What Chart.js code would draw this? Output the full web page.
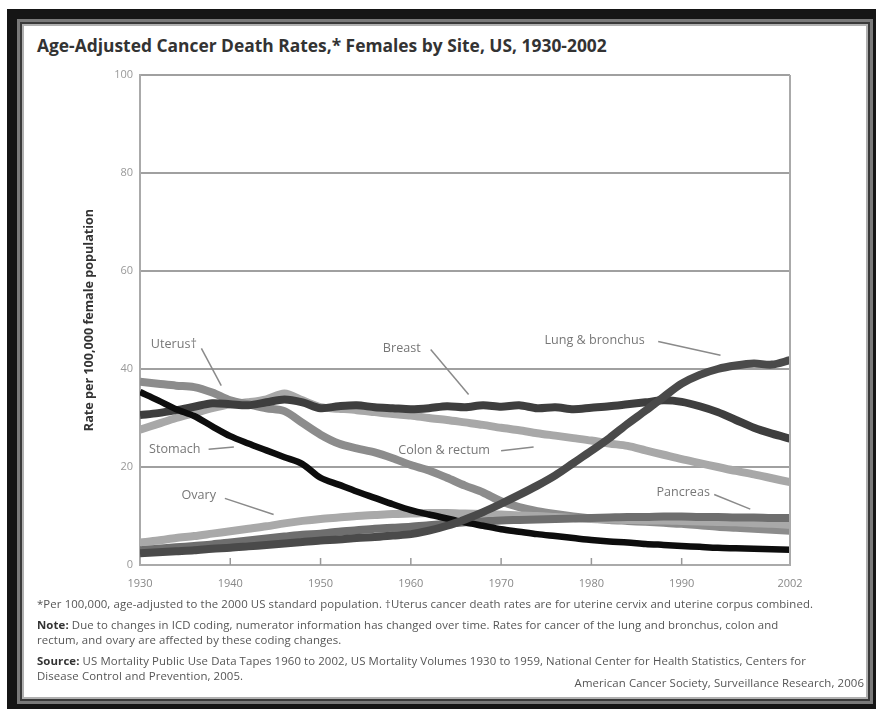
<!DOCTYPE html>
<html>
<head>
<meta charset="utf-8">
<script src="https://cdn.jsdelivr.net/npm/chart.js@4.4.1/dist/chart.umd.min.js"></script>
<style>
    body { margin: 0; background: #fff; width: 876px; height: 709px; overflow: hidden; position: relative; font-family: 'Open Sans', sans-serif; }
    .frame { position: absolute; left: 7px; top: 9px; right: 0; bottom: 0; border-style: solid; border-color: #151515;
        border-width: 10px 3px 5px 10px;
        box-shadow: inset 0 0 0 3px #7a7a7a, inset 0 0 0 5px #3a3a3a, inset 0 0 0 7px #b0b0b0; }
    .title { position: absolute; left: 37px; top: 33px; font-size: 17.4px; font-weight: bold; color: #333; letter-spacing: 0; }
    .chart-box { position: absolute; left: 0; top: 0; width: 876px; height: 600px; }
    .notes { position: absolute; left: 37px; top: 596px; width: 830px; font-size: 11.4px; color: #555; line-height: 15px; letter-spacing: 0.1px; }
    .notes p { margin: 0 0 6px 0; white-space: nowrap; }
    .notes b { color: #333; }
    .credit { position: absolute; right: 12px; top: 675px; font-size: 11.4px; color: #555; letter-spacing: 0.1px; }
</style>
</head>
<body>
<div class="frame"></div>
<div class="title">Age-Adjusted Cancer Death Rates,* Females by Site, US, 1930-2002</div>
<div class="chart-box"><canvas id="rates"></canvas></div>
<div class="notes">
    <p>*Per 100,000, age-adjusted to the 2000 US standard population. †Uterus cancer death rates are for uterine cervix and uterine corpus combined.</p>
    <p><b>Note:</b> Due to changes in ICD coding, numerator information has changed over time. Rates for cancer of the lung and bronchus, colon and<br>rectum, and ovary are affected by these coding changes.</p>
    <p><b>Source:</b> US Mortality Public Use Data Tapes 1960 to 2002, US Mortality Volumes 1930 to 1959, National Center for Health Statistics, Centers for<br>Disease Control and Prevention, 2005.</p>
</div>
<div class="credit">American Cancer Society, Surveillance Research, 2006</div>

<script>
// years sampled every 2 years
var years = [1930, 1932, 1934, 1936, 1938, 1940, 1942, 1944, 1946, 1948,
             1950, 1952, 1954, 1956, 1958, 1960, 1962, 1964, 1966, 1968,
             1970, 1972, 1974, 1976, 1978, 1980, 1982, 1984, 1986, 1988,
             1990, 1992, 1994, 1996, 1998, 2000, 2002];

var lung = [2.4, 2.6, 2.8, 3.0, 3.3, 3.5, 3.8, 4.1, 4.4, 4.7,
            5.0, 5.2, 5.5, 5.7, 6.0, 6.3, 7.0, 8.0, 9.3, 10.8,
            12.5, 14.3, 16.2, 18.3, 20.8, 23.3, 25.9, 28.8, 31.5, 34.3,
            37.0, 38.8, 40.0, 40.7, 41.1, 40.9, 41.8];

var breast = [30.6, 31.0, 31.6, 32.3, 33.0, 32.8, 32.6, 33.2, 33.8, 33.2,
              32.0, 32.4, 32.6, 32.2, 32.0, 31.8, 32.0, 32.4, 32.2, 32.6,
              32.3, 32.6, 32.0, 32.2, 31.8, 32.1, 32.4, 32.8, 33.2, 33.6,
              33.3, 32.4, 31.2, 29.6, 28.0, 26.8, 25.8];

var stomach = [35.3, 33.6, 31.8, 30.4, 28.3, 26.3, 24.8, 23.4, 22.0, 20.6,
               17.8, 16.4, 15.0, 13.7, 12.4, 11.2, 10.3, 9.5, 8.7, 8.0,
               7.3, 6.8, 6.3, 5.9, 5.5, 5.1, 4.8, 4.6, 4.3, 4.1,
               3.9, 3.7, 3.5, 3.4, 3.3, 3.2, 3.1];

var uterus = [37.4, 37.0, 36.6, 36.3, 35.2, 33.6, 32.8, 32.0, 31.4, 29.0,
              26.6, 24.8, 23.8, 23.0, 21.8, 20.4, 19.3, 17.8, 16.2, 14.8,
              13.0, 11.8, 11.0, 10.4, 9.9, 9.5, 9.2, 9.0, 8.8, 8.6,
              8.4, 8.1, 7.8, 7.6, 7.4, 7.2, 7.0];

var colon = [27.6, 28.8, 30.0, 31.0, 32.0, 32.8, 33.2, 33.8, 35.0, 33.6,
             32.2, 31.9, 31.6, 31.2, 30.8, 30.5, 30.0, 29.6, 29.1, 28.6,
             28.0, 27.5, 26.9, 26.4, 25.9, 25.4, 24.8, 24.3, 23.4, 22.5,
             21.6, 20.8, 20.0, 19.2, 18.5, 17.7, 16.9];

var ovary = [4.6, 5.0, 5.5, 5.9, 6.4, 6.9, 7.4, 7.9, 8.5, 9.0,
             9.4, 9.7, 10.0, 10.2, 10.4, 10.5, 10.6, 10.6, 10.5, 10.4,
             10.3, 10.1, 10.0, 9.8, 9.6, 9.4, 9.3, 9.2, 9.1, 9.1,
             9.0, 8.9, 8.8, 8.7, 8.5, 8.4, 8.2];

var pancreas = [3.0, 3.3, 3.6, 3.9, 4.2, 4.6, 5.0, 5.4, 5.8, 6.2,
                6.4, 6.8, 7.1, 7.4, 7.6, 7.8, 8.1, 8.4, 8.7, 8.9,
                9.1, 9.2, 9.3, 9.4, 9.5, 9.6, 9.7, 9.8, 9.8, 9.9,
                9.9, 9.8, 9.8, 9.7, 9.7, 9.6, 9.6];

var xTicks = [1930, 1940, 1950, 1960, 1970, 1980, 1990, 2002];
var yTicks = [0, 20, 40, 60, 80, 100];

function points(vals) {
    return vals.map(function(v, i) { return {x: years[i], y: v}; });
}

function series(label, vals, color, width) {
    return {
        label: label,
        data: points(vals),
        borderColor: color,
        borderWidth: width,
        pointRadius: 0,
        tension: 0.3,
        borderCapStyle: 'butt',
        fill: false
    };
}

// labels and pointer lines, in data units (year, rate)
var callouts = [
    {text: 'Uterus†', x: 1931.2, y: 45, line: [1936.8, 44.2, 1939.0, 36.6]},
    {text: 'Breast', x: 1956.9, y: 44.2, line: [1962.2, 44.0, 1966.4, 34.8]},
    {text: 'Lung & bronchus', x: 1974.8, y: 45.9, line: [1987.4, 45.6, 1994.3, 42.8]},
    {text: 'Stomach', x: 1931.0, y: 23.5, line: [1937.6, 23.6, 1940.4, 24.1]},
    {text: 'Colon & rectum', x: 1958.6, y: 23.3, line: [1970.0, 23.3, 1973.6, 24.1]},
    {text: 'Ovary', x: 1934.6, y: 14.3, line: [1939.4, 13.6, 1944.8, 10.3]},
    {text: 'Pancreas', x: 1987.2, y: 14.9, line: [1993.6, 14.4, 1997.6, 11.4]}
];

var extras = {
    id: 'extras',
    afterDatasetsDraw: function(chart) {
        var ctx = chart.ctx, xs = chart.scales.x, ys = chart.scales.y, a = chart.chartArea;
        ctx.save();
        // right border of the plot box
        ctx.strokeStyle = '#aaa';
        ctx.lineWidth = 2;
        ctx.beginPath();
        ctx.moveTo(a.right, a.top);
        ctx.lineTo(a.right, a.bottom);
        ctx.stroke();
        // small inward ticks on the year axis
        ctx.strokeStyle = '#999';
        ctx.lineWidth = 1.5;
        xTicks.slice(1, -1).forEach(function(t) {
            var px = xs.getPixelForValue(t);
            ctx.beginPath();
            ctx.moveTo(px, a.bottom);
            ctx.lineTo(px, a.bottom - 7);
            ctx.stroke();
        });
        // callouts
        ctx.font = '12.6px "Open Sans"';
        ctx.textBaseline = 'middle';
        callouts.forEach(function(c) {
            ctx.fillStyle = '#777';
            ctx.fillText(c.text, xs.getPixelForValue(c.x), ys.getPixelForValue(c.y));
            ctx.strokeStyle = '#8a8a8a';
            ctx.lineWidth = 1.5;
            ctx.beginPath();
            ctx.moveTo(xs.getPixelForValue(c.line[0]), ys.getPixelForValue(c.line[1]));
            ctx.lineTo(xs.getPixelForValue(c.line[2]), ys.getPixelForValue(c.line[3]));
            ctx.stroke();
        });
        ctx.restore();
    }
};

new Chart(document.getElementById('rates'), {
    type: 'line',
    data: {
        datasets: [
            series('Lung & bronchus', lung, '#4a4a4a', 8),
            series('Stomach', stomach, '#0d0d0d', 6.5),
            series('Breast', breast, '#3e3e3e', 8),
            series('Pancreas', pancreas, '#6e6e6e', 8),
            series('Ovary', ovary, '#a9a9a9', 8),
            series('Uterus', uterus, '#8c8c8c', 8),
            series('Colon & rectum', colon, '#a8a8a8', 8)
        ]
    },
    options: {
        responsive: true,
        maintainAspectRatio: false,
        animation: false,
        layout: {padding: {left: 82, right: 86, top: 75, bottom: 11}},
        plugins: {legend: {display: false}, tooltip: {enabled: false}},
        scales: {
            x: {
                type: 'linear',
                min: 1930,
                max: 2002,
                afterBuildTicks: function(s) { s.ticks = xTicks.map(function(v) { return {value: v}; }); },
                afterFit: function(s) { s.height = 24; },
                grid: {display: false},
                border: {color: '#aaa', width: 2},
                ticks: {
                    color: '#888',
                    font: {family: 'Open Sans', size: 11},
                    padding: 4,
                    maxRotation: 0,
                    callback: function(v) { return String(v); }
                }
            },
            y: {
                min: 0,
                max: 100,
                afterBuildTicks: function(s) { s.ticks = yTicks.map(function(v) { return {value: v}; }); },
                afterFit: function(s) { s.width = 58; },
                grid: {color: '#a0a0a0', lineWidth: 2, drawTicks: false},
                border: {color: '#aaa', width: 2},
                ticks: {color: '#999', font: {family: 'Open Sans', size: 11}, padding: 7},
                title: {
                    display: true,
                    text: 'Rate per 100,000 female population',
                    color: '#333',
                    font: {family: 'Open Sans', size: 12.6, weight: 'bold'},
                    padding: 0
                }
            }
        }
    },
    plugins: [extras]
});
</script>
</body>
</html>
